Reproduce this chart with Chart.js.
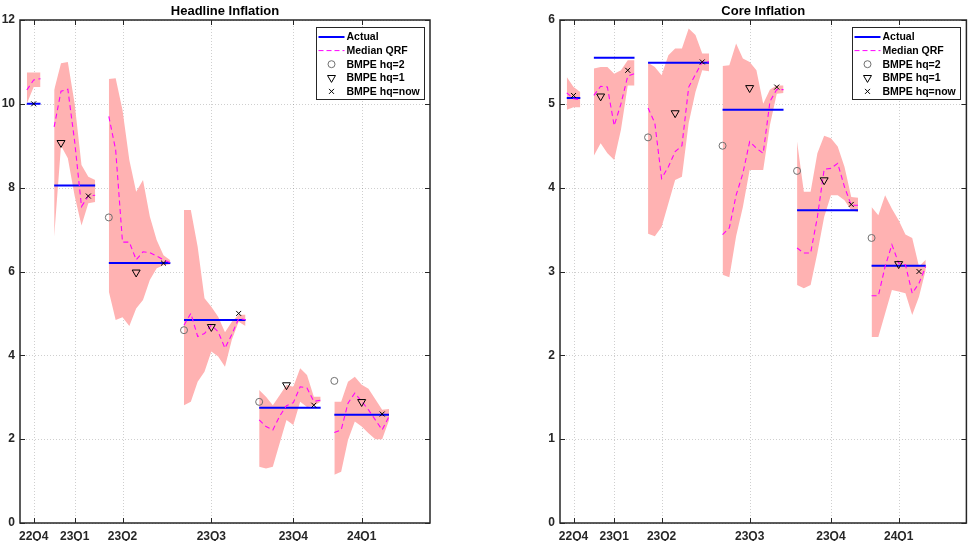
<!DOCTYPE html>
<html>
<head>
<meta charset="utf-8">
<script src="https://cdn.jsdelivr.net/npm/chart.js@4.4.1/dist/chart.umd.min.js"></script>
<style>
body { margin: 0; background: #fff; }
#wrap { position: relative; width: 972px; height: 541px; }
canvas { position: absolute; top: 0; }
</style>
</head>
<body>
<div id="wrap">
  <canvas id="headline" width="486" height="541" style="left:0"></canvas>
  <canvas id="core" width="486" height="541" style="left:486px"></canvas>
</div>
<script>
// x axis is in weeks of nowcasting, quarters are separated by a short gap
const quarters = ['22Q4', '23Q1', '23Q2', '23Q3', '23Q4', '24Q1'];
const tickWeeks = [1, 7, 14, 27, 39, 49];
const segStart = [0, 4, 12, 23, 34, 45];
const hq2Week = [null, null, 12, 23, 34, 45];
const hq1Week = [null, 5, 16, 27, 38, 49];
const nowWeek = [1, 9, 20, 31, 42, 52];

// headline inflation
const hlActual = [10.0, 8.05, 6.2, 4.84, 2.75, 2.58];
const hlMedian = [
  [10.33, 10.57, 10.6],
  [9.45, 10.3, 10.35, 9.1, 7.55, 7.8, 7.82],
  [9.7, 8.9, 6.7, 6.7, 6.28, 6.47, 6.45, 6.37, 6.28, 6.21],
  [4.72, 5.0, 4.45, 4.52, 4.72, 4.56, 4.17, 4.5, 4.88, 4.85],
  [2.46, 2.3, 2.22, 2.55, 2.8, 2.87, 3.25, 3.22, 2.9, 2.93],
  [2.16, 2.22, 2.86, 3.1, 2.9, 2.7, 2.46, 2.22, 2.54]
];
const hlUpper = [
  [10.75, 10.75, 10.75],
  [10.33, 10.97, 11.0, 10.0, 8.54, 8.26, 8.18],
  [10.59, 10.61, 9.85, 8.66, 7.9, 8.18, 7.31, 6.75, 6.39, 6.27],
  [7.47, 7.47, 6.59, 5.36, 5.16, 4.92, 4.55, 4.8, 4.97, 4.97],
  [3.17, 3.01, 2.81, 3.05, 3.29, 3.25, 3.69, 3.53, 3.01, 3.01],
  [2.89, 2.89, 3.37, 3.49, 3.3, 3.2, 2.95, 2.7, 2.72]
];
const hlLower = [
  [10.0, 10.4, 10.4],
  [6.83, 9.0, 8.7, 7.8, 7.1, 7.63, 7.66],
  [5.52, 4.84, 4.91, 4.7, 5.12, 5.32, 5.8, 6.08, 6.15, 6.17],
  [2.81, 2.89, 3.37, 3.61, 4.09, 3.97, 3.73, 4.37, 4.8, 4.7],
  [1.34, 1.3, 1.34, 1.9, 2.46, 2.34, 2.89, 2.77, 2.8, 2.89],
  [1.15, 1.22, 1.98, 2.42, 2.3, 2.14, 2.0, 2.0, 2.45]
];
const hlHq2 = [null, null, 7.29, 4.6, 2.89, 3.39];
const hlHq1 = [null, 9.07, 5.98, 4.68, 3.29, 2.89];
const hlNow = [10.0, 7.8, 6.2, 5.0, 2.81, 2.6];

// core inflation
const coActual = [5.07, 5.55, 5.49, 4.93, 3.73, 3.07];
const coMedian = [
  [5.13, 5.06, 5.05],
  [5.1, 5.21, 5.2, 4.74, 5.0, 5.33, 5.36],
  [4.95, 4.77, 4.11, 4.25, 4.43, 4.5, 5.2, 5.35, 5.5, 5.5],
  [3.44, 3.52, 3.91, 4.17, 4.55, 4.47, 4.41, 5.03, 5.17, 5.17],
  [3.28, 3.22, 3.22, 3.65, 4.22, 4.23, 4.29, 4.01, 3.79, 3.79],
  [2.71, 2.71, 3.06, 3.32, 3.1, 3.08, 2.74, 2.86, 3.06]
];
const coUpper = [
  [5.32, 5.2, 5.14],
  [5.42, 5.44, 5.44, 5.36, 5.4, 5.52, 5.52],
  [5.49, 5.44, 5.34, 5.58, 5.66, 5.66, 5.9, 5.82, 5.6, 5.6],
  [5.45, 5.46, 5.72, 5.54, 5.5, 5.4, 5.0, 5.17, 5.22, 5.22],
  [4.55, 3.95, 3.95, 4.41, 4.62, 4.59, 4.49, 4.25, 3.89, 3.88],
  [3.77, 3.67, 3.91, 3.75, 3.61, 3.44, 3.4, 3.06, 3.14]
];
const coLower = [
  [4.93, 4.96, 4.96],
  [4.38, 4.53, 4.41, 4.33, 4.69, 5.22, 5.22],
  [3.45, 3.42, 3.53, 3.81, 4.09, 4.13, 4.77, 5.14, 5.4, 5.39],
  [2.96, 2.93, 3.42, 3.77, 4.21, 4.21, 4.21, 4.75, 5.12, 5.13],
  [2.84, 2.8, 2.84, 3.22, 3.65, 3.91, 3.91, 3.85, 3.73, 3.71],
  [2.22, 2.22, 2.5, 2.78, 2.76, 2.74, 2.48, 2.7, 3.02]
];
const coHq2 = [null, null, 4.6, 4.5, 4.2, 3.4];
const coHq1 = [null, 5.09, 4.89, 5.19, 4.09, 3.09];
const coNow = [5.1, 5.4, 5.5, 5.2, 3.8, 3.0];

const FONT = "'Liberation Sans', Arial, sans-serif";
const AXIS_COLOR = '#262626';
const BAND_COLOR = 'rgb(255,178,178)';
const CIRCLE_COLOR = '#707070';

function segPoints(seg, q) {
  return seg.map((v, i) => ({ x: segStart[q] + i, y: v }));
}

function medianPoints(segs) {
  let pts = [];
  segs.forEach((seg, q) => {
    if (q > 0) pts.push({ x: segStart[q] - 1, y: null });
    pts = pts.concat(segPoints(seg, q));
  });
  return pts;
}

function actualPoints(vals, segs) {
  const pts = [];
  vals.forEach((v, q) => {
    if (q > 0) pts.push({ x: segStart[q] - 1, y: null });
    pts.push({ x: segStart[q], y: v });
    pts.push({ x: segStart[q] + segs[q].length - 1, y: v });
  });
  return pts;
}

function markerPoints(weeks, vals) {
  const pts = [];
  weeks.forEach((w, q) => {
    if (w !== null && vals[q] !== null) pts.push({ x: w, y: vals[q] });
  });
  return pts;
}

function bandDatasets(upper, lower) {
  const sets = [];
  upper.forEach((seg, q) => {
    sets.push({ data: segPoints(seg, q), borderWidth: 0, borderColor: 'rgba(0,0,0,0)',
      pointRadius: 0, fill: false, order: 10 });
    sets.push({ data: segPoints(lower[q], q), borderWidth: 0, borderColor: 'rgba(0,0,0,0)',
      pointRadius: 0, fill: '-1', backgroundColor: BAND_COLOR, order: 10 });
  });
  return sets;
}

function drawMarker(ctx, kind, x, y) {
  ctx.save();
  ctx.lineWidth = 1;
  if (kind === 'circle') {
    ctx.strokeStyle = CIRCLE_COLOR;
    ctx.beginPath();
    ctx.arc(x, y, 3.5, 0, Math.PI * 2);
    ctx.stroke();
  } else if (kind === 'tri') {
    ctx.strokeStyle = '#000';
    const r = 4.6;
    ctx.beginPath();
    ctx.moveTo(x, y + r);
    ctx.lineTo(x - r * 0.866, y - r * 0.5);
    ctx.lineTo(x + r * 0.866, y - r * 0.5);
    ctx.closePath();
    ctx.stroke();
  } else {
    ctx.strokeStyle = '#000';
    const d = 2.5;
    ctx.beginPath();
    ctx.moveTo(x - d, y - d); ctx.lineTo(x + d, y + d);
    ctx.moveTo(x - d, y + d); ctx.lineTo(x + d, y - d);
    ctx.stroke();
  }
  ctx.restore();
}

const panelDeco = {
  id: 'panelDeco',
  beforeDatasetsDraw(chart) {
    const { ctx, chartArea: a, scales } = chart;
    ctx.save();
    ctx.strokeStyle = 'rgba(38,38,38,0.22)';
    ctx.lineWidth = 1;
    ctx.setLineDash([1, 2]);
    scales.x.ticks.forEach(t => {
      const px = Math.round(scales.x.getPixelForValue(t.value)) + 0.5;
      ctx.beginPath(); ctx.moveTo(px, a.top); ctx.lineTo(px, a.bottom); ctx.stroke();
    });
    scales.y.ticks.forEach(t => {
      const py = Math.round(scales.y.getPixelForValue(t.value)) + 0.5;
      ctx.beginPath(); ctx.moveTo(a.left, py); ctx.lineTo(a.right, py); ctx.stroke();
    });
    ctx.restore();
  },
  afterDatasetsDraw(chart, args, opts) {
    const { ctx, chartArea: a, scales } = chart;
    ctx.save();
    // box and inward ticks
    ctx.strokeStyle = AXIS_COLOR;
    ctx.lineWidth = 1.5;
    ctx.strokeRect(a.left, a.top, a.right - a.left, a.bottom - a.top);
    ctx.lineWidth = 1;
    scales.x.ticks.forEach(t => {
      const px = Math.round(scales.x.getPixelForValue(t.value)) + 0.5;
      ctx.beginPath();
      ctx.moveTo(px, a.bottom); ctx.lineTo(px, a.bottom - 5);
      ctx.moveTo(px, a.top); ctx.lineTo(px, a.top + 5);
      ctx.stroke();
    });
    scales.y.ticks.forEach(t => {
      const py = Math.round(scales.y.getPixelForValue(t.value)) + 0.5;
      ctx.beginPath();
      ctx.moveTo(a.left, py); ctx.lineTo(a.left + 5, py);
      ctx.moveTo(a.right, py); ctx.lineTo(a.right - 5, py);
      ctx.stroke();
    });

    // title
    ctx.fillStyle = '#000';
    ctx.font = 'bold 13px ' + FONT;
    ctx.textAlign = 'center';
    ctx.textBaseline = 'middle';
    ctx.fillText(opts.title, (a.left + a.right) / 2, 11);

    // legend
    const w = 108, h = 72;
    const bx = Math.round(a.right - 6.5 - w) + 0.5, by = Math.round(a.top + 7) + 0.5;
    ctx.fillStyle = '#fff';
    ctx.fillRect(bx, by, w, h);
    ctx.strokeStyle = AXIS_COLOR;
    ctx.lineWidth = 1;
    ctx.strokeRect(bx, by, w, h);
    const labels = ['Actual', 'Median QRF', 'BMPE hq=2', 'BMPE hq=1', 'BMPE hq=now'];
    ctx.font = 'bold 10.5px ' + FONT;
    ctx.textAlign = 'left';
    labels.forEach((lab, i) => {
      const ry = by + 9.5 + i * 13.6;
      if (i === 0) {
        ctx.strokeStyle = '#0000ff'; ctx.lineWidth = 2;
        ctx.beginPath(); ctx.moveTo(bx + 2, ry); ctx.lineTo(bx + 28, ry); ctx.stroke();
      } else if (i === 1) {
        ctx.strokeStyle = '#ff00ff'; ctx.lineWidth = 1;
        ctx.setLineDash([5, 3]);
        ctx.beginPath(); ctx.moveTo(bx + 2, ry); ctx.lineTo(bx + 28, ry); ctx.stroke();
        ctx.setLineDash([]);
      } else {
        drawMarker(ctx, ['circle', 'tri', 'x'][i - 2], bx + 15, ry);
      }
      ctx.fillStyle = '#000';
      ctx.fillText(lab, bx + 30, ry + 0.5);
    });
    ctx.restore();
  }
};

function makeChart(id, title, ymax, ystep, actual, median, upper, lower, hq2, hq1, now, padL, padR) {
  const datasets = bandDatasets(upper, lower);
  datasets.push({ data: actualPoints(actual, median), borderColor: '#0000ff', borderWidth: 2,
    pointRadius: 0, fill: false, spanGaps: false, order: 3 });
  datasets.push({ data: medianPoints(median), borderColor: '#ff00ff', borderWidth: 1.1,
    borderDash: [5, 3.5], pointRadius: 0, fill: false, spanGaps: false, order: 2 });
  datasets.push({ data: markerPoints(hq2Week, hq2), showLine: false, pointStyle: 'circle',
    pointRadius: 3.5, pointBorderColor: CIRCLE_COLOR, pointBackgroundColor: 'rgba(0,0,0,0)',
    pointBorderWidth: 1, order: 1 });
  datasets.push({ data: markerPoints(hq1Week, hq1), showLine: false, pointStyle: 'triangle',
    pointRotation: 180, pointRadius: 4.6, pointBorderColor: '#000',
    pointBackgroundColor: 'rgba(0,0,0,0)', pointBorderWidth: 1, order: 1 });
  datasets.push({ data: markerPoints(nowWeek, now), showLine: false, pointStyle: 'crossRot',
    pointRadius: 3.5, pointBorderColor: '#000', pointBorderWidth: 1, order: 1 });

  return new Chart(document.getElementById(id), {
    type: 'line',
    data: { datasets: datasets },
    options: {
      responsive: false,
      animation: false,
      devicePixelRatio: 1,
      events: [],
      elements: { line: { tension: 0 } },
      layout: { padding: { left: padL, right: padR, top: 20, bottom: 0 } },
      plugins: {
        legend: { display: false },
        tooltip: { enabled: false },
        panelDeco: { title: title }
      },
      scales: {
        x: {
          type: 'linear',
          min: -1,
          max: 59,
          grid: { display: false, drawTicks: false },
          border: { display: false },
          afterBuildTicks: s => { s.ticks = tickWeeks.map(v => ({ value: v })); },
          afterFit: s => { s.height = 18; },
          ticks: {
            autoSkip: false,
            maxRotation: 0,
            padding: 6,
            color: AXIS_COLOR,
            font: { family: FONT, size: 12, weight: 'bold' },
            callback: v => quarters[tickWeeks.indexOf(v)]
          }
        },
        y: {
          min: 0,
          max: ymax,
          grid: { display: false, drawTicks: false },
          border: { display: false },
          afterFit: s => { s.width = 20; },
          ticks: {
            stepSize: ystep,
            padding: 5,
            color: AXIS_COLOR,
            font: { family: FONT, size: 12, weight: 'bold' }
          }
        }
      }
    },
    plugins: [panelDeco]
  });
}

makeChart('headline', 'Headline Inflation', 12, 2, hlActual, hlMedian, hlUpper, hlLower,
  hlHq2, hlHq1, hlNow, 0, 56);
makeChart('core', 'Core Inflation', 6, 1, coActual, coMedian, coUpper, coLower,
  coHq2, coHq1, coNow, 54, 1);
</script>
</body>
</html>
